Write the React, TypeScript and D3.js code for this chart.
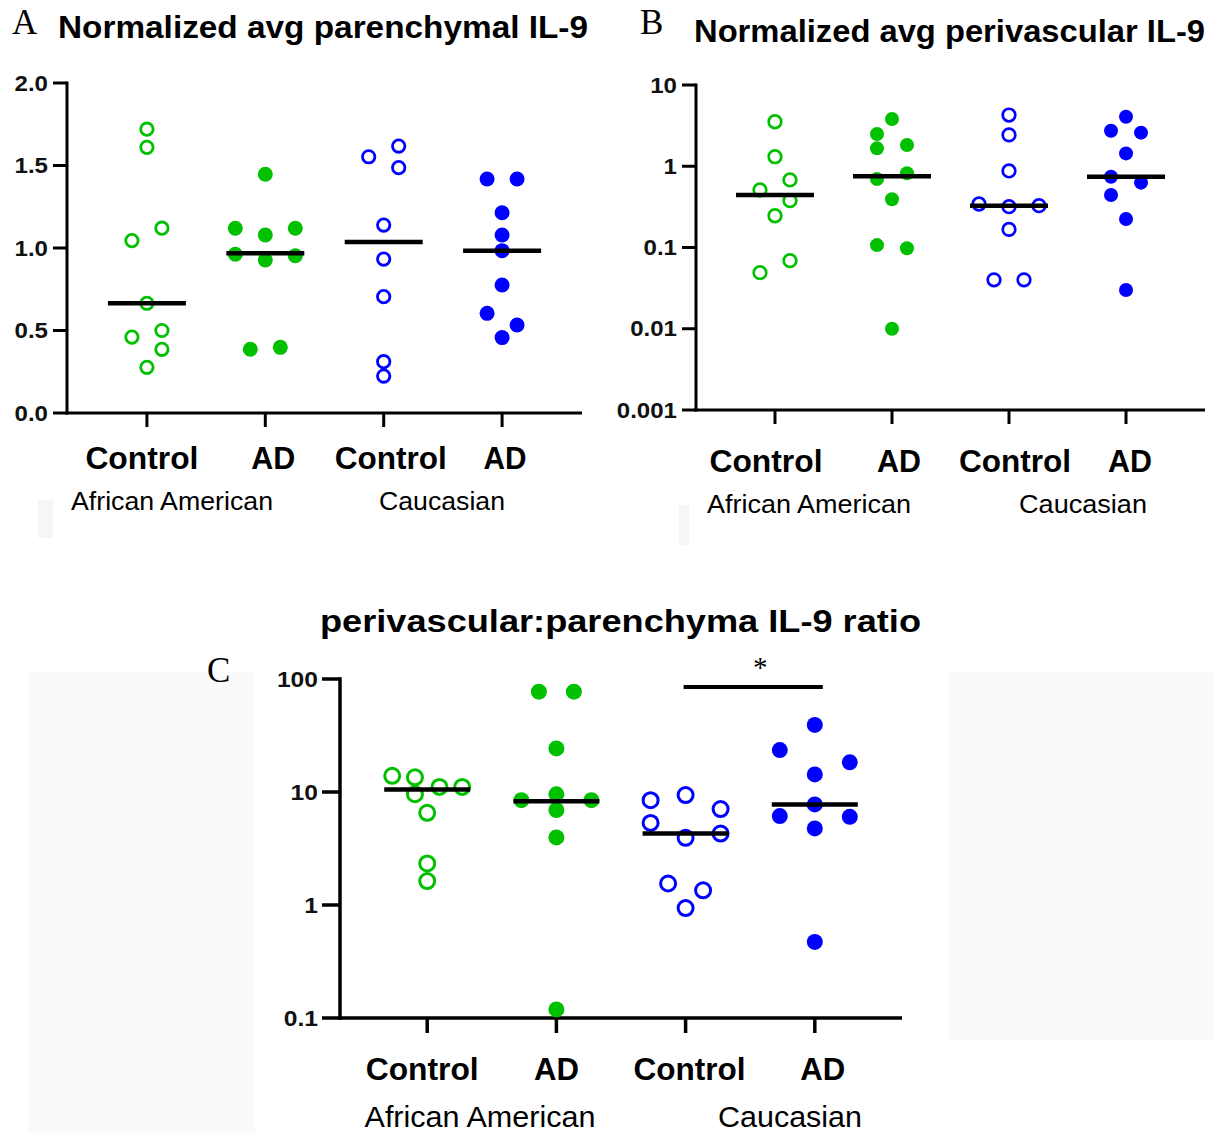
import React from "react";
import * as d3 from "d3";

// ---------------- DATA ----------------
const categories = ["Control", "AD", "Control", "AD"];
const groups = ["African American", "Caucasian"];

// Panel A – Normalized avg parenchymal IL-9  ([value, jitter column])
const parAAControl: [number, number][] = [[1.72, 0], [1.61, 0], [1.12, 1], [1.045, -1], [0.665, 0], [0.5, 1], [0.46, -1], [0.386, 1], [0.277, 0]];
const parAAAD: [number, number][] = [[1.447, 0], [1.12, -2], [1.12, 2], [1.079, 0], [0.962, -2], [0.953, 2], [0.927, 0], [0.398, 1], [0.386, -1]];
const parCaControl: [number, number][] = [[1.618, 1], [1.553, -1], [1.487, 1], [1.139, 0], [0.933, 0], [0.705, 0], [0.311, 0], [0.224, 0]];
const parCaAD: [number, number][] = [[1.418, -1], [1.418, 1], [1.214, 0], [1.079, 0], [0.984, 0], [0.776, 0], [0.604, -1], [0.533, 1], [0.457, 0]];
const parMedians = [0.665, 0.968, 1.036, 0.984];
const parTicks = [0, 0.5, 1, 1.5, 2];

// Panel B – Normalized avg perivascular IL-9
const perAAControl: [number, number][] = [[3.53, 0], [1.31, 0], [0.678, 1], [0.51, -1], [0.377, 1], [0.246, 0], [0.0689, 1], [0.049, -1]];
const perAAAD: [number, number][] = [[3.82, 0], [2.49, -1], [1.83, 1], [1.66, -1], [0.82, 1], [0.697, -1], [0.392, 0], [0.107, -1], [0.098, 1], [0.01, 0]];
const perCaControl: [number, number][] = [[4.27, 0], [2.43, 0], [0.875, 0], [0.343, -2], [0.327, 2], [0.318, 0], [0.167, 0], [0.04, -1], [0.04, 1]];
const perCaAD: [number, number][] = [[4.07, 0], [2.74, -1], [2.59, 1], [1.44, 0], [0.744, -1], [0.628, 1], [0.443, -1], [0.224, 0], [0.03, 0]];
const perMedians = [0.443, 0.751, 0.327, 0.745];
const perTicks = [0.001, 0.01, 0.1, 1, 10];

// Panel C – perivascular:parenchyma IL-9 ratio
const ratioAAControl: [number, number][] = [[13.9, -2], [13.5, -0.7], [11.1, 0.7], [11.1, 2], [9.57, -0.7], [6.54, 0], [2.33, 0], [1.63, 0]];
const ratioAAAD: [number, number][] = [[77.2, -1], [77.2, 1], [24.3, 0], [9.53, 0], [8.47, -2], [8.47, 2], [6.92, 0], [3.96, 0], [0.119, 0]];
const ratioCaControl: [number, number][] = [[9.4, 0], [8.47, -2], [7.06, 2], [5.33, -2], [4.29, 2], [3.93, 0], [1.55, -1], [1.35, 1], [0.94, 0]];
const ratioCaAD: [number, number][] = [[39.2, 0], [23.5, -2], [18.3, 2], [14.3, 0], [7.76, 0], [6.12, -2], [6.03, 2], [4.76, 0], [0.471, 0]];
const ratioMedians = [10.5, 8.3, 4.3, 7.76];
const ratioTicks = [0.1, 1, 10, 100];
const ratioSignificance: [number, number, string][] = [[2, 3, "*"]];

// ---------------- STYLE ----------------
const GREEN = "#00c000";
const BLUE = "#0000ff";
const SANS = "'Liberation Sans', Arial, sans-serif";
const SERIF = "'Liberation Serif', 'Times New Roman', serif";

type Layout = {
  x0: number; x1: number; yTop: number; yBot: number;
  log: boolean; domain: [number, number];
  yTickLen: number; xTickLen: number; axisW: number;
  jitter: number; rHollow: number; rFilled: number; hollowW: number;
  medHalf: number; medW: number;
  tickFont: number; tickGap: number;
  catBase: number; catOffsets: number[]; catFont: number; catW: number[];
  grpBase: number; grpCenters: number[]; grpFont: number; grpW: number[];
};

function Panel({ L, series, medians, ticks, fmt, sig }: {
  L: Layout; series: [number, number][][]; medians: number[]; ticks: number[];
  fmt: (v: number) => string; sig?: [number, number, string][];
}) {
  const x = d3.scalePoint<number>().domain([0, 1, 2, 3]).range([L.x0, L.x1]).padding(0.675);
  const y = L.log
    ? d3.scaleLog().domain(L.domain).range([L.yBot, L.yTop])
    : d3.scaleLinear().domain(L.domain).range([L.yBot, L.yTop]);
  const half = L.axisW / 2;
  return (
    <g>
      {/* axes */}
      <line x1={L.x0} x2={L.x0} y1={L.yTop - half} y2={L.yBot + half} stroke="#000" strokeWidth={L.axisW} />
      <line x1={L.x0 - half} x2={L.x1} y1={L.yBot} y2={L.yBot} stroke="#000" strokeWidth={L.axisW} />
      {ticks.map((t) => (
        <g key={"yt" + t}>
          <line x1={L.x0 - L.yTickLen} x2={L.x0} y1={y(t)} y2={y(t)} stroke="#000" strokeWidth={L.axisW} />
          <text
            transform={`translate(${L.x0 - L.yTickLen - L.tickGap},${y(t) + L.tickFont * 0.36}) scale(1.12,1)`}
            textAnchor="end" fontFamily={SANS} fontWeight="bold" fontSize={L.tickFont} fill="#111">
            {fmt(t)}
          </text>
        </g>
      ))}
      {categories.map((c, i) => (
        <g key={"xt" + i}>
          <line x1={x(i)} x2={x(i)} y1={L.yBot} y2={L.yBot + L.xTickLen} stroke="#000" strokeWidth={L.axisW} />
          <text x={(x(i) as number) + L.catOffsets[i]} y={L.catBase} textAnchor="middle" fontFamily={SANS}
            fontWeight="bold" fontSize={L.catFont} textLength={L.catW[i]} lengthAdjust="spacingAndGlyphs" fill="#000">
            {c}
          </text>
        </g>
      ))}
      {groups.map((g, i) => (
        <text key={"g" + i} x={L.grpCenters[i]} y={L.grpBase} textAnchor="middle" fontFamily={SANS}
          fontSize={L.grpFont} textLength={L.grpW[i]} lengthAdjust="spacingAndGlyphs" fill="#000">
          {g}
        </text>
      ))}
      {/* points */}
      {series.map((pts, i) => {
        const color = i < 2 ? GREEN : BLUE;
        const hollow = i % 2 === 0;
        return (
          <g key={"s" + i}>
            {pts.map(([v, col], j) => (
              <circle key={j} cx={(x(i) as number) + col * L.jitter} cy={y(v)}
                r={hollow ? L.rHollow : L.rFilled}
                fill={hollow ? "none" : color} stroke={hollow ? color : "none"} strokeWidth={hollow ? L.hollowW : 0} />
            ))}
          </g>
        );
      })}
      {/* medians */}
      {medians.map((m, i) => (
        <line key={"m" + i} x1={(x(i) as number) - L.medHalf} x2={(x(i) as number) + L.medHalf}
          y1={y(m)} y2={y(m)} stroke="#000" strokeWidth={L.medW} />
      ))}
      {sig && sig.map(([a, b, s], k) => (
        <g key={"sig" + k}>
          <line x1={(x(a) as number) - 2} x2={(x(b) as number) + 8} y1={L.yTop + 8} y2={L.yTop + 8} stroke="#000" strokeWidth={4} />
          <text x={((x(a) as number) + (x(b) as number)) / 2 + 10} y={L.yTop - 2} textAnchor="middle"
            fontFamily={SERIF} fontSize={29} fill="#000">{s}</text>
        </g>
      ))}
    </g>
  );
}

const LA: Layout = {
  x0: 67, x1: 582, yTop: 83, yBot: 413, log: false, domain: [0, 2],
  yTickLen: 14, xTickLen: 14, axisW: 3,
  jitter: 15, rHollow: 6.2, rFilled: 7.5, hollowW: 2.8, medHalf: 39, medW: 4.5,
  tickFont: 21.5, tickGap: 5,
  catBase: 469, catOffsets: [-5, 8, 7, 3], catFont: 31, catW: [113, 44, 112, 43],
  grpBase: 510, grpCenters: [172, 442], grpFont: 26, grpW: [202, 126],
};
const LB: Layout = {
  x0: 696, x1: 1205, yTop: 85, yBot: 410, log: true, domain: [0.001, 10],
  yTickLen: 14, xTickLen: 14, axisW: 3,
  jitter: 15, rHollow: 6.3, rFilled: 7, hollowW: 2.7, medHalf: 39, medW: 4.5,
  tickFont: 21.5, tickGap: 5,
  catBase: 472, catOffsets: [-9, 7, 6, 4], catFont: 31, catW: [113, 44, 112, 44],
  grpBase: 513, grpCenters: [809, 1083], grpFont: 26, grpW: [204, 128],
};
const LC: Layout = {
  x0: 340, x1: 902, yTop: 679, yBot: 1018, log: true, domain: [0.1, 100],
  yTickLen: 18, xTickLen: 15, axisW: 3.5,
  jitter: 17.5, rHollow: 7.5, rFilled: 8, hollowW: 3, medHalf: 43, medW: 4.5,
  tickFont: 22, tickGap: 4,
  catBase: 1080, catOffsets: [-5, 0, 4, 8], catFont: 31, catW: [113, 45, 112, 45],
  grpBase: 1127, grpCenters: [480, 790], grpFont: 30, grpW: [231, 144],
};

const fmtA = (v: number) => d3.format(".1f")(v);
const fmtLog = (v: number) => String(v);

export default function App() {
  return (
    <svg width={1215} height={1133} style={{ position: "absolute", left: 0, top: 0, background: "#fff" }}>
      <rect x={0} y={0} width={1215} height={1133} fill="#fff" />
      {/* faint background blocks of the source figure */}
      <rect x={28} y={672} width={227} height={461} fill="#fafafa" />
      <rect x={948} y={672} width={267} height={368} fill="#fafafa" />
      <rect x={38} y={500} width={15} height={38} fill="#f6f6f6" />
      <rect x={679} y={505} width={10} height={40} fill="#f6f6f6" />

      {/* Panel A */}
      <text x={12} y={34} fontFamily={SERIF} fontSize={35} fill="#000">A</text>
      <text x={58} y={38} fontFamily={SANS} fontWeight="bold" fontSize={31} textLength={530} lengthAdjust="spacingAndGlyphs" fill="#000">
        Normalized avg parenchymal IL-9
      </text>
      <Panel L={LA} series={[parAAControl, parAAAD, parCaControl, parCaAD]} medians={parMedians} ticks={parTicks} fmt={fmtA} />

      {/* Panel B */}
      <text x={640} y={34} fontFamily={SERIF} fontSize={35} fill="#000">B</text>
      <text x={694} y={42} fontFamily={SANS} fontWeight="bold" fontSize={31} textLength={511} lengthAdjust="spacingAndGlyphs" fill="#000">
        Normalized avg perivascular IL-9
      </text>
      <Panel L={LB} series={[perAAControl, perAAAD, perCaControl, perCaAD]} medians={perMedians} ticks={perTicks} fmt={fmtLog} />

      {/* Panel C */}
      <text x={320} y={632} fontFamily={SANS} fontWeight="bold" fontSize={31} textLength={601} lengthAdjust="spacingAndGlyphs" fill="#000">
        perivascular:parenchyma IL-9 ratio
      </text>
      <text x={207} y={682} fontFamily={SERIF} fontSize={35} fill="#000">C</text>
      <Panel L={LC} series={[ratioAAControl, ratioAAAD, ratioCaControl, ratioCaAD]} medians={ratioMedians} ticks={ratioTicks} fmt={fmtLog} sig={ratioSignificance} />
    </svg>
  );
}
